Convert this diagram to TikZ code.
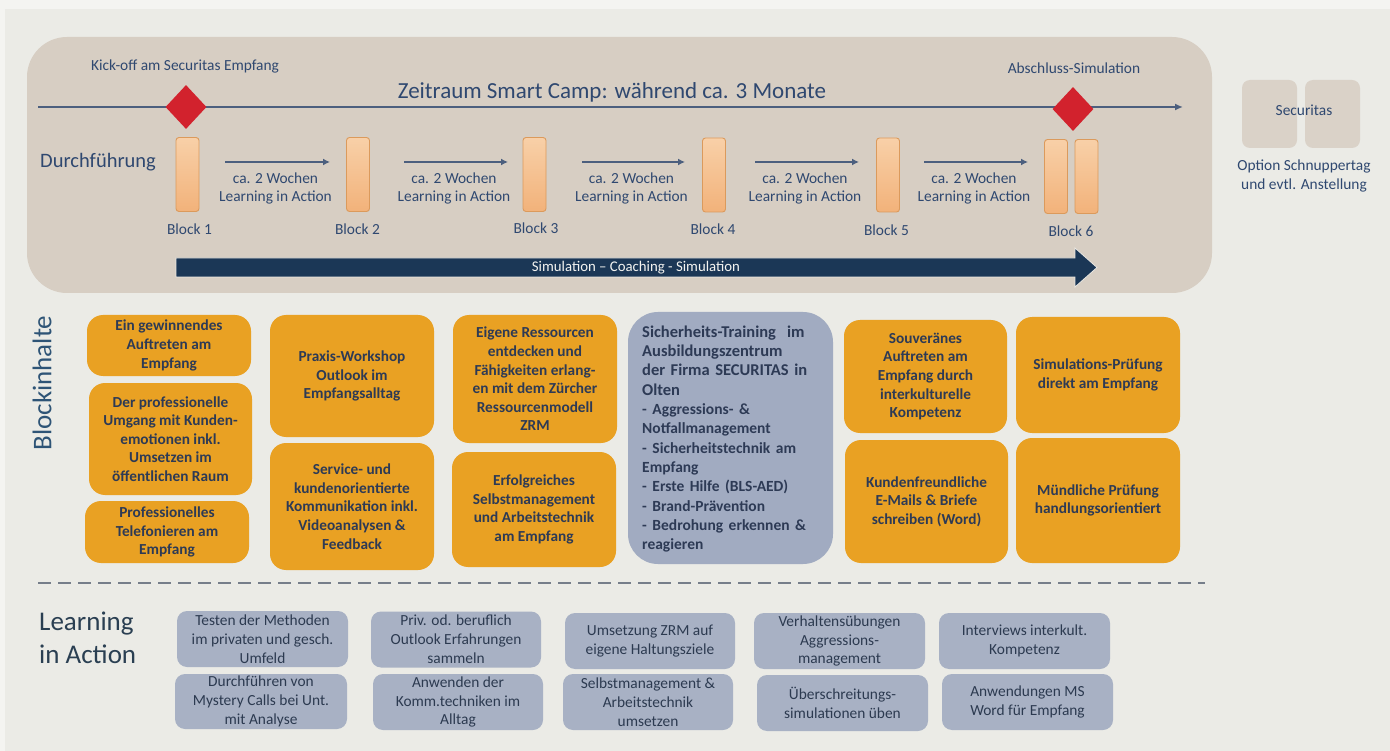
\documentclass[tikz,border=0pt]{standalone}
\usepackage{fontspec}
\setmainfont{Carlito}
\usetikzlibrary{arrows.meta,shapes.geometric}

\definecolor{pagewhite}{RGB}{244,244,241}
\definecolor{pagebg}{RGB}{235,235,230}
\definecolor{panel}{RGB}{215,206,195}
\definecolor{panellight}{RGB}{218,210,200}
\definecolor{orangeC}{RGB}{233,161,35}
\definecolor{blockgray}{RGB}{161,171,193}
\definecolor{lgray}{RGB}{168,177,196}
\definecolor{boxtext}{RGB}{45,58,85}
\definecolor{ltext}{RGB}{44,58,80}
\definecolor{headblue}{RGB}{46,84,118}
\definecolor{headdark}{RGB}{42,63,82}
\definecolor{labelblue}{RGB}{47,72,112}
\definecolor{tline}{RGB}{76,95,126}
\definecolor{diamondred}{RGB}{210,34,45}
\definecolor{darkarrow}{RGB}{27,55,86}
\definecolor{peachtop}{RGB}{248,208,168}
\definecolor{peachbot}{RGB}{242,178,122}
\definecolor{peachedge}{RGB}{219,154,92}
\definecolor{dashgray}{RGB}{118,126,138}

\begin{document}
\begin{tikzpicture}[x=1pt,y=-1pt,
  small/.style={font=\fontsize{15.4}{18.5}\selectfont},
  toplabel/.style={small, text=labelblue, inner sep=0pt},
  blockbar/.style={rounded corners=3pt, top color=peachtop, bottom color=peachbot,
    draw=peachedge, line width=0.9pt, minimum width=23pt, minimum height=74pt, inner sep=0pt},
  milestone/.style={diamond, fill=diamondred, minimum width=41pt, minimum height=44pt, inner sep=0pt},
  tarrow/.style={draw=tline, line width=1.6pt, -{Latex[length=8pt,width=7pt]}},
  obox/.style={rounded corners=16pt, fill=orangeC, text=boxtext, align=center, inner sep=2pt,
    font=\bfseries\fontsize{15.3}{18.6}\selectfont},
  lbox/.style={rounded corners=10pt, fill=lgray, text=ltext, align=center, inner sep=1pt,
    font=\fontsize{15.4}{18.8}\selectfont},
  secbox/.style={rounded corners=8pt, fill=panellight, minimum width=55pt, minimum height=68pt, inner sep=0pt}
]
\useasboundingbox (0,0) rectangle (1390,751);
\fill[pagewhite] (0,0) rectangle (1390,751);
\fill[pagebg] (5,9) rectangle (1390,751);

% ---------- time line panel ----------
\fill[panel, rounded corners=40pt] (27,37) rectangle (1212,293);

\coordinate (tl0) at (38,107);
\coordinate (tl1) at (1183,107);
\draw[tarrow] (tl0) -- (tl1);

\node[milestone] (m1) at (186,107) {};
\node[milestone] (m2) at (1073,109) {};
\node[toplabel] (kick) at (185,66) {Kick-off am Securitas Empfang};
\node[toplabel] (absch) at (1074,68) {Abschluss-Simulation};
\node[text=labelblue, font=\fontsize{23}{27}\selectfont, inner sep=0pt] (zeit) at (612,92)
  {Zeitraum Smart Camp: während ca. 3 Monate};
\node[text=labelblue, font=\fontsize{20.5}{24}\selectfont, anchor=west, inner sep=0pt] (durch) at (40,162) {Durchführung};

% blocks
\node[blockbar] (b1) at (187.5,174.5) {};
\node[blockbar] (b2) at (358,174.5) {};
\node[blockbar] (b3) at (534.5,174.5) {};
\node[blockbar] (b4) at (714,175) {};
\node[blockbar] (b5) at (888,175) {};
\node[blockbar] (b6a) at (1056,176.5) {};
\node[blockbar] (b6b) at (1086.5,176.5) {};

\node[toplabel] (l1) at (189.5,229) {Block 1};
\node[toplabel] (l2) at (357.5,229) {Block 2};
\node[toplabel] (l3) at (536,228) {Block 3};
\node[toplabel] (l4) at (713,229) {Block 4};
\node[toplabel] (l5) at (886.5,230) {Block 5};
\node[toplabel] (l6) at (1071,231) {Block 6};

% learning-in-action arrows between the blocks
\foreach \i/\xa/\xb in {1/225/330, 2/404/508, 3/582/685, 4/755/859, 5/924/1028}{
  \coordinate (a\i s) at (\xa,162);
  \coordinate (a\i e) at (\xb,162);
  \draw[draw=tline, line width=1.5pt, -{Latex[length=7pt,width=7pt]}] (a\i s) -- (a\i e);
  \node[toplabel, align=center, font=\fontsize{15.4}{18}\selectfont] (w\i) at ({(\xa+\xb)/2-2},188)
    {ca. 2 Wochen\\Learning in Action};
}

% simulation - coaching - simulation band
\fill[darkarrow, draw=pagewhite!70!panel, line width=0.8pt]
  (176,258) -- (1075,258) -- (1075,248) -- (1097,267.5) -- (1075,287) -- (1075,277) -- (176,277) -- cycle;
\node[text=pagewhite, font=\fontsize{14.8}{17}\selectfont, inner sep=0pt] (sim) at (636,267.5)
  {Simulation – Coaching - Simulation};

% Securitas option
\node[secbox] (s1) at (1269.5,114) {};
\node[secbox] (s2) at (1332.5,114) {};
\node[toplabel] (sec) at (1304,110) {Securitas};
\node[toplabel, align=center, font=\fontsize{15.4}{18.5}\selectfont] (opt) at (1304,176)
  {Option Schnuppertag\\und evtl. Anstellung};

% ---------- block contents ----------
\node[rotate=90, text=headblue, font=\fontsize{27}{32}\selectfont, inner sep=0pt] (bi) at (42,383) {Blockinhalte};

\node[obox, minimum width=164pt, minimum height=61pt] (oa) at (169,345.5)
  {Ein gewinnendes\\Auftreten am\\Empfang};
\node[obox, minimum width=163pt, minimum height=112pt] (ob) at (170.5,439)
  {Der professionelle\\Umgang mit Kunden-\\emotionen inkl.\\Umsetzen im\\öffentlichen Raum};
\node[obox, minimum width=164pt, minimum height=62pt] (oc) at (167,532)
  {Professionelles\\Telefonieren am\\Empfang};
\node[obox, minimum width=164pt, minimum height=122pt] (od) at (352,376)
  {Praxis-Workshop\\Outlook im\\Empfangsalltag};
\node[obox, minimum width=164pt, minimum height=127pt] (oe) at (352,506.5)
  {Service- und\\kundenorientierte\\Kommunikation inkl.\\Videoanalysen \&\\Feedback};
\node[obox, minimum width=164pt, minimum height=128pt] (of) at (535,379)
  {Eigene Ressourcen\\entdecken und\\Fähigkeiten erlang-\\en mit dem Zürcher\\Ressourcenmodell\\ZRM};
\node[obox, minimum width=164pt, minimum height=115pt] (og) at (534,509.5)
  {Erfolgreiches\\Selbstmanagement\\und Arbeitstechnik\\am Empfang};

\fill[blockgray, rounded corners=30pt] (628,312) rectangle (833,564);
\node[anchor=west, text width=192pt, align=left, text=boxtext, inner sep=0pt,
  font=\bfseries\fontsize{16.5}{19.3}\selectfont] (sic) at (642,439)
  {Sicherheits-Training\ \ im\\Ausbildungszentrum\\der Firma SECURITAS in\\Olten\\
   \fontsize{15.5}{19.3}\selectfont
   - Aggressions- \&\\Notfallmanagement\\- Sicherheitstechnik am\\Empfang\\- Erste Hilfe (BLS-AED)\\- Brand-Prävention\\- Bedrohung erkennen \&\\reagieren};

\node[obox, minimum width=163pt, minimum height=113pt] (oi) at (925.5,376.5)
  {Souveränes\\Auftreten am\\Empfang durch\\interkulturelle\\Kompetenz};
\node[obox, minimum width=163pt, minimum height=123pt] (oj) at (926.5,501.5)
  {Kundenfreundliche\\E-Mails \& Briefe\\schreiben (Word)};
\node[obox, minimum width=164pt, minimum height=116pt] (ok) at (1098,375)
  {Simulations-Prüfung\\direkt am Empfang};
\node[obox, minimum width=164pt, minimum height=125pt] (ol) at (1098,500.5)
  {Mündliche Prüfung\\handlungsorientiert};

% ---------- separator ----------
\coordinate (d0) at (38,583);
\coordinate (d1) at (1205,583);
\draw[dashgray, line width=2pt, dash pattern=on 13pt off 7pt] (d0) -- (d1);

% ---------- learning in action ----------
\node[anchor=west, align=left, text=headdark, font=\fontsize{27}{33}\selectfont, inner sep=0pt] (lia) at (39,638)
  {Learning\\in Action};

\node[lbox, minimum width=171pt, minimum height=56pt] (p1) at (262.5,639)
  {Testen der Methoden\\im privaten und gesch.\\Umfeld};
\node[lbox, minimum width=172pt, minimum height=55pt] (q1) at (261,701.5)
  {Durchführen von\\Mystery Calls bei Unt.\\mit Analyse};
\node[lbox, minimum width=170pt, minimum height=56pt] (p2) at (456,639.5)
  {Priv. od. beruflich\\Outlook Erfahrungen\\sammeln};
\node[lbox, minimum width=170pt, minimum height=56pt] (q2) at (458,702)
  {Anwenden der\\Komm.techniken im\\Alltag};
\node[lbox, minimum width=170pt, minimum height=56pt] (p3) at (650,641)
  {Umsetzung ZRM auf\\eigene Haltungsziele};
\node[lbox, minimum width=170pt, minimum height=56pt] (q3) at (648,702)
  {Selbstmanagement \&\\Arbeitstechnik\\umsetzen};
\node[lbox, minimum width=171pt, minimum height=56pt] (p4) at (839.5,641)
  {Verhaltensübungen\\Aggressions-\\management};
\node[lbox, minimum width=171pt, minimum height=56pt] (q4) at (842.5,703)
  {Überschreitungs-\\simulationen üben};
\node[lbox, minimum width=171pt, minimum height=56pt] (p5) at (1024.5,641)
  {Interviews interkult.\\Kompetenz};
\node[lbox, minimum width=171pt, minimum height=56pt] (q5) at (1027.5,702)
  {Anwendungen MS\\Word für Empfang};
\end{tikzpicture}
\end{document}
